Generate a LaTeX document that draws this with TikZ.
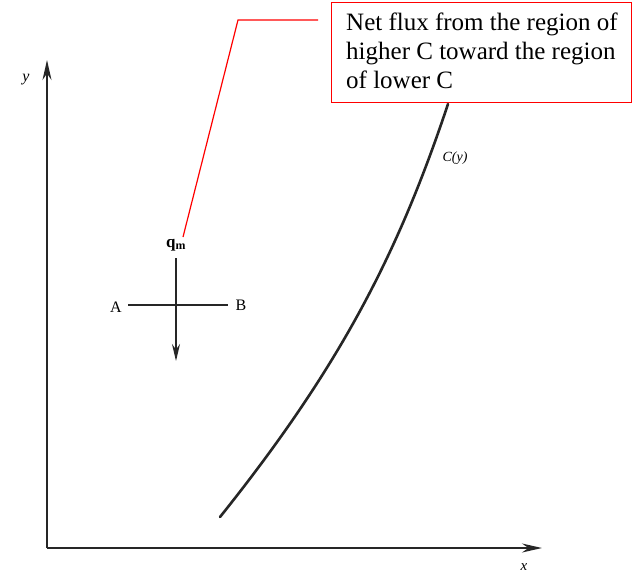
\documentclass[tikz,border=0pt]{standalone}
\usepackage{fontspec}
\setmainfont{Liberation Serif}
\usetikzlibrary{arrows.meta}
\begin{document}
\begin{tikzpicture}[x=1pt,y=-1pt,
  axis/.style={line width=1.8pt, draw=black!85, -{Stealth[length=20pt,width=9pt]}},
  curveline/.style={line width=2.6pt, draw=black!85, line cap=round},
  lbl/.style={font=\fontsize{16}{16}\selectfont, inner sep=0pt},
  callout/.style={draw=red, line width=1.2pt},
  notebox/.style={draw=red, line width=1.4pt, minimum width=300pt, minimum height=100pt,
    inner sep=0pt, anchor=north west}]
\useasboundingbox (0,0) rectangle (636,573);
% axes
\coordinate (O) at (47,548);
\coordinate (ytip) at (47,60);
\coordinate (xtip) at (542,548);
\draw[axis] (O) -- (ytip);
\draw[axis] (O) -- (xtip);
\node[lbl, font=\fontsize{16}{16}\selectfont\itshape] (ylab) at (26,80) {y};
\node[lbl, font=\fontsize{15}{15}\selectfont\itshape] (xlab) at (524,567) {x};
% curve
\coordinate (cstart) at (220,517);
\coordinate (cendpt) at (448,104);
\draw[curveline] (cstart) .. controls (340,367) and (398,254) .. (cendpt);
\node[lbl, font=\fontsize{14}{14}\selectfont\itshape] (clab) at (455,158) {C(y)};
% cross
\coordinate (Aend) at (128,305);
\coordinate (Bend) at (228,305);
\coordinate (vtop) at (176,258);
\coordinate (vtip) at (176,361);
\draw[line width=1.8pt, draw=black!85] (Aend) -- (Bend);
\draw[line width=1.8pt, draw=black!85, -{Stealth[length=17pt,width=8pt]}] (vtop) -- (vtip);
\node[lbl] (A) at (116,307) {A};
\node[lbl] (B) at (241,305) {B};
\node[lbl, font=\fontsize{17}{17}\selectfont\bfseries] (qm) at (176,245) {q$_{\mathbf{m}}$};
% note box
\node[notebox] (note) at (331,2) {};
\node[anchor=north west, inner sep=0pt, align=left,
  font=\fontsize{25}{29}\selectfont] (notetext) at (346,13)
  {Net flux from the region of\\higher C toward the region\\of lower C};
% callout line
\coordinate (bend) at (238,20);
\coordinate (cend) at (318,20);
\draw[callout] (183,237) -- (bend) -- (cend);
\end{tikzpicture}
\end{document}
